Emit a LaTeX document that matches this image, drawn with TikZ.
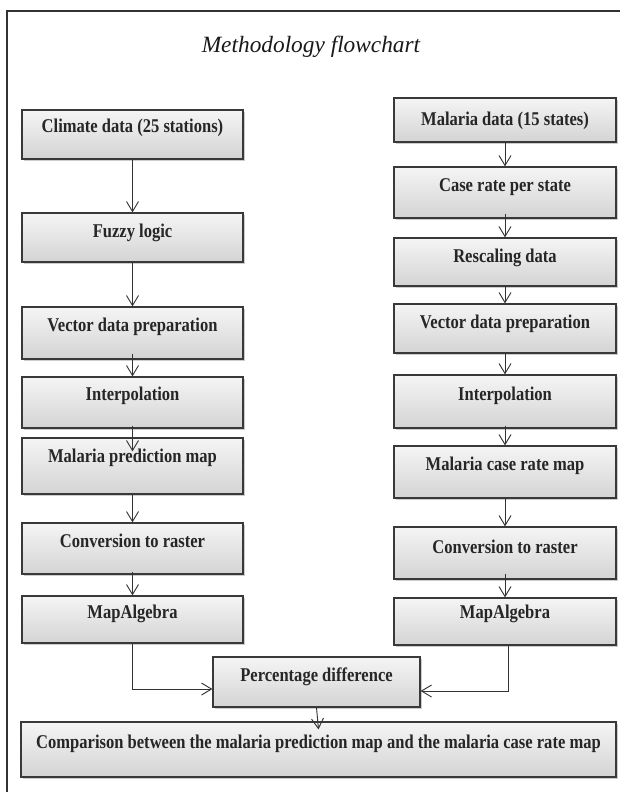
\documentclass[tikz,border=0pt]{standalone}
\usepackage{fontspec}
\setmainfont{Liberation Serif}
\newfontfamily\boxfont[FakeStretch=0.85]{Liberation Serif Bold}
\usetikzlibrary{arrows.meta,shadows}

\begin{document}
\begin{tikzpicture}[x=0.75pt,y=-0.75pt,
  box/.style={draw=gray!45!black, line width=0.9pt, top color=gray!8, bottom color=gray!34,
    drop shadow={shadow xshift=1.2pt,shadow yshift=-1.8pt,opacity=0.4}, inner sep=0pt},
  lcol/.style={box, minimum width=165.75pt},
  rcol/.style={box, minimum width=166.5pt},
  lbl/.style={font=\boxfont\fontsize{14.6}{16}\selectfont, text=black!85, inner sep=0pt, anchor=base},
  arr/.style={draw=gray!40!black, line width=0.7pt, -{Straight Barb[length=7.5pt,width=9pt]}},
  frame/.style={draw=black!80, line width=1.2pt}]
\useasboundingbox (0,0) rectangle (620,792);
\fill[white] (0,0) rectangle (620,792);
\draw[frame] (7,792) -- (7,11) -- (620,11);

\node[font=\itshape\fontsize{17.5}{20}\selectfont, text=black!90] (title) at (311,47) {Methodology flowchart};

% left column
\node[lcol, minimum height=36.75pt] (clim) at (132.5,134.5) {};
\node[lcol, minimum height=36.75pt] (fuzzy) at (132.5,237.5) {};
\node[lcol, minimum height=39pt] (vecL) at (132.5,333) {};
\node[lcol, minimum height=38.25pt] (intL) at (132.5,402.5) {};
\node[lcol, minimum height=42pt] (pred) at (132.5,466) {};
\node[lcol, minimum height=38.25pt] (convL) at (132.5,548.5) {};
\node[lcol, minimum height=35.25pt] (mapL) at (132.5,619.5) {};

% right column
\node[rcol, minimum height=33pt] (mdata) at (505,120) {};
\node[rcol, minimum height=38.25pt] (case) at (505,192.5) {};
\node[rcol, minimum height=36pt] (resc) at (505,262) {};
\node[rcol, minimum height=36.75pt] (vecR) at (505,328.5) {};
\node[rcol, minimum height=39.75pt] (intR) at (505,401.5) {};
\node[rcol, minimum height=39pt] (cmap) at (505,472) {};
\node[rcol, minimum height=39pt] (convR) at (505,553) {};
\node[rcol, minimum height=35.25pt] (mapR) at (505,621.5) {};

% bottom
\node[box, minimum width=155.25pt, minimum height=37.5pt] (pct) at (316.5,682) {};
\node[box, minimum width=446.25pt, minimum height=41.25pt] (comp) at (318.5,749.5) {};

% labels
\node[lbl] (clim-t) at ([yshift=-17.5pt]clim.north) {Climate data (25 stations)};
\node[lbl] (fuzzy-t) at ([yshift=-19pt]fuzzy.north) {Fuzzy logic};
\node[lbl] (vecL-t) at ([yshift=-19pt]vecL.north) {Vector data preparation};
\node[lbl] (intL-t) at ([yshift=-18pt]intL.north) {Interpolation};
\node[lbl] (pred-t) at ([yshift=-19pt]pred.north) {Malaria prediction map};
\node[lbl] (convL-t) at ([yshift=-19pt]convL.north) {Conversion to raster};
\node[lbl] (mapL-t) at ([yshift=-17pt]mapL.north) {MapAlgebra};

\node[lbl] (mdata-t) at ([yshift=-21pt]mdata.north) {Malaria data (15 states)};
\node[lbl] (case-t) at ([yshift=-18.5pt]case.north) {Case rate per state};
\node[lbl] (resc-t) at ([yshift=-19pt]resc.north) {Rescaling data};
\node[lbl] (vecR-t) at ([yshift=-19pt]vecR.north) {Vector data preparation};
\node[lbl] (intR-t) at ([yshift=-19.5pt]intR.north) {Interpolation};
\node[lbl] (cmap-t) at ([yshift=-19pt]cmap.north) {Malaria case rate map};
\node[lbl] (convR-t) at ([yshift=-20pt]convR.north) {Conversion to raster};
\node[lbl] (mapR-t) at ([yshift=-16pt]mapR.north) {MapAlgebra};

\node[lbl] (pct-t) at ([yshift=-19pt]pct.north) {Percentage difference};
\node[lbl] (comp-t) at ([yshift=-20.5pt]comp.north) {Comparison between the malaria prediction map and the malaria case rate map};

% arrows left
\draw[arr] (clim.south) -- (fuzzy.north);
\draw[arr] (fuzzy.south) -- (vecL.north);
\draw[arr] ([yshift=4.5pt]vecL.south) -- (intL.north);
\draw[arr] ([yshift=2.25pt]intL.south) -- ([yshift=-10.5pt]pred.north);
\draw[arr] (pred.south) -- (convL.north);
\draw[arr] ([yshift=2.25pt]convL.south) -- (mapL.north);
% arrows right
\draw[arr] (mdata.south) -- (case.north);
\draw[arr] ([yshift=3.75pt]case.south) -- (resc.north);
\draw[arr] (resc.south) -- (vecR.north);
\draw[arr] (vecR.south) -- (intR.north);
\draw[arr] ([yshift=2.25pt]intR.south) -- (cmap.north);
\draw[arr] (cmap.south) -- (convR.north);
\draw[arr] ([yshift=4.5pt]convR.south) -- (mapR.north);
% merge
\draw[arr] (mapL.south) |- ([yshift=-5.25pt]pct.west);
\draw[arr] ([xshift=2.25pt]mapR.south) |- ([yshift=-6.75pt]pct.east);
\draw[arr] (pct.south) -- ([yshift=-6pt]comp.north);
\end{tikzpicture}
\end{document}
